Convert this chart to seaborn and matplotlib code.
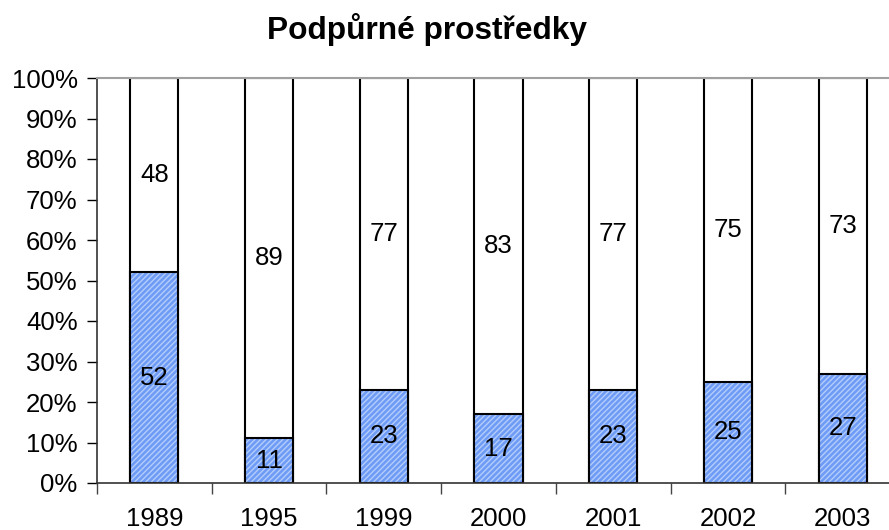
import matplotlib
matplotlib.use("Agg")
import matplotlib.pyplot as plt
import seaborn as sns
import pandas as pd
import numpy as np
from matplotlib.ticker import FixedLocator, PercentFormatter

years = ["1989", "1995", "1999", "2000", "2001", "2002", "2003"]
lower = [52, 11, 23, 17, 23, 25, 27]
upper = [48, 89, 77, 83, 77, 75, 73]
title = "Podpůrné prostředky"

sns.set_theme(style="white")
plt.rcParams['font.family'] = ['Liberation Sans', 'DejaVu Sans']
plt.rcParams['hatch.linewidth'] = 1.0
plt.rcParams['text.color'] = 'black'

df = pd.DataFrame({"year": years, "lower": lower, "upper": upper})
df["total"] = df["lower"] + df["upper"]

W, H = 889, 530
fig = plt.figure(figsize=(W / 100, H / 100), dpi=100)
ax = fig.add_axes([97 / W, 1 - 483 / H, (900 - 97) / W, (483 - 78) / H])

# full-height white bars
sns.barplot(data=df, x="year", y="total", color="white", edgecolor="black",
            linewidth=1.5, width=0.42, ax=ax, saturation=1)
# hatched blue lower segment
sns.barplot(data=df, x="year", y="lower", color="#6E9BF5", edgecolor="#B4CDFB",
            linewidth=0, width=0.42, ax=ax, saturation=1, hatch="//////")
# outlines of lower segment
sns.barplot(data=df, x="year", y="lower", fill=False, edgecolor="black",
            linewidth=1.5, width=0.42, ax=ax)

for i, (lo, up) in enumerate(zip(lower, upper)):
    ax.text(i, lo / 2, str(lo), ha="center", va="center", fontsize=18.5, color="black")
    ax.text(i, lo + up / 2, str(up), ha="center", va="center", fontsize=18.5, color="black")

ax.set_xlim(-0.5, len(years) - 0.5)
ax.set_ylim(0, 100)
ax.yaxis.set_major_locator(FixedLocator(np.arange(0, 101, 10)))
ax.yaxis.set_major_formatter(PercentFormatter(decimals=0))
ax.set_xlabel("")
ax.set_ylabel("")
ax.xaxis.set_minor_locator(FixedLocator(np.arange(-0.5, len(years), 1.0)))
ax.tick_params(axis="x", which="major", length=0, labelsize=18.5, pad=17, colors="black")
ax.tick_params(axis="x", which="minor", length=8, width=1, direction="out", color="#444444", bottom=True)
ax.tick_params(axis="y", which="major", length=7, width=1, direction="out", labelsize=18.5,
               colors="black", left=True, pad=7)

for s in ["left", "bottom"]:
    ax.spines[s].set_color("#333333")
    ax.spines[s].set_linewidth(1.2)
ax.spines["right"].set_visible(False)
ax.spines["top"].set_color("#A0A0A0")
ax.spines["top"].set_linewidth(1.5)

fig.text(427 / W, 1 - 30 / H, title, ha="center", va="center", fontsize=22.8,
         fontweight="bold", color="black")

fig.savefig("out.png", dpi=100)
